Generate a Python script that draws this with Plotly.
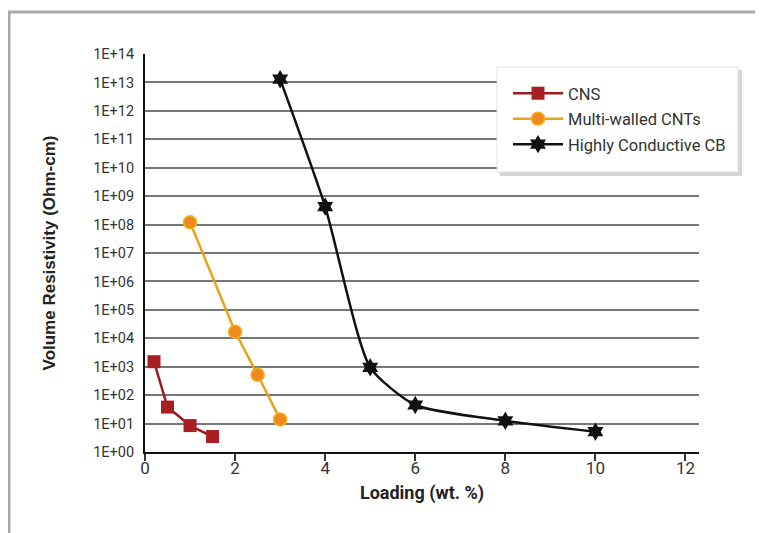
import plotly.graph_objects as go

# ---- data ----
cns_x = [0.2, 0.5, 1.0, 1.5]
cns_y = [1500, 38, 8.5, 3.5]

mw_x = [1.0, 2.0, 2.5, 3.0]
mw_y = [1.2e8, 1.7e4, 520, 14]

cb_x = [3, 4, 5, 6, 8, 10]
cb_y = [1.3e13, 4.3e8, 950, 45, 12.5, 5.2]

y_tickvals = [10 ** i for i in range(15)]
y_ticktext = ["1E+%02d" % i for i in range(15)]
x_tickvals = [0, 2, 4, 6, 8, 10, 12]

# page body has an 8px default margin -> work in screen pixels and shift
OFF = 8
W, H = 763 - OFF, 533 - OFF
L, R, T, B = 145, 699, 54, 452  # plot area in screen pixels


def px(xp):
    return (xp - L) / (R - L)


def py(yp):
    return (B - yp) / (B - T)


fig = go.Figure()
fig.add_trace(go.Scatter(
    x=cns_x, y=cns_y, name="CNS", mode="lines+markers", legendgroup="a",
    line=dict(color="#9b1c1f", width=2.5),
    marker=dict(symbol="square", size=13, color="#a81e22"),
))
fig.add_trace(go.Scatter(
    x=mw_x, y=mw_y, name="Multi-walled CNTs", mode="lines+markers", legendgroup="b",
    line=dict(color="#e8a317", width=2.5),
    marker=dict(symbol="circle", size=13, color="#f08a1c", line=dict(color="#f2b21c", width=1.5)),
))
fig.add_trace(go.Scatter(
    x=cb_x, y=cb_y, name="Highly Conductive CB", mode="lines+markers", legendgroup="c",
    line=dict(color="#111111", width=2.5, shape="spline", smoothing=0.6),
    marker=dict(symbol="hexagram", size=14, color="#111111"),
))

font_tick = "Roboto, Arial, sans-serif"

shapes = [
    # outer gray frame (left + top)
    dict(type="line", xref="paper", yref="paper", x0=px(9), x1=px(9), y0=py(560), y1=py(12),
         line=dict(color="#a8a8a8", width=3)),
    dict(type="line", xref="paper", yref="paper", x0=px(8), x1=px(790), y0=py(12), y1=py(12),
         line=dict(color="#a8a8a8", width=3)),
    # legend shadow
    dict(type="rect", xref="paper", yref="paper", x0=px(500), x1=px(742), y0=py(176), y1=py(70),
         fillcolor="rgba(0,0,0,0.16)", line=dict(width=0), layer="above"),
    # legend box
    dict(type="rect", xref="paper", yref="paper", x0=px(497), x1=px(738), y0=py(172), y1=py(67),
         fillcolor="white", line=dict(color="#e0e0e0", width=1), layer="above"),
]

fig.update_layout(
    width=W, height=H,
    margin=dict(l=L - OFF, r=W - (R - OFF), t=T - OFF, b=H - (B - OFF)),
    paper_bgcolor="white", plot_bgcolor="white",
    showlegend=True,
    legend=dict(
        x=px(508), y=py(76), xanchor="left", yanchor="top",
        bgcolor="rgba(0,0,0,0)", borderwidth=0,
        font=dict(family="Roboto, sans-serif", size=16.5, color="#333333"),
        tracegroupgap=1, traceorder="grouped", itemwidth=50,
    ),
    shapes=shapes,
    xaxis=dict(
        range=[0, 12.3], tickvals=x_tickvals, ticks="outside", ticklen=7, tickwidth=1.5,
        tickcolor="#333", showline=True, linecolor="#111", linewidth=2, showgrid=False,
        zeroline=False, ticklabelstandoff=-7,
        tickfont=dict(family=font_tick, size=17, color="#333"),
        title=dict(text="<b>Loading (wt. %)</b>", font=dict(family=font_tick, size=18, color="#222"),
                   standoff=9),
    ),
    yaxis=dict(
        type="log", range=[0, 14], tickvals=y_tickvals, ticktext=y_ticktext, ticks="",
        showline=True, linecolor="#111", linewidth=2, showgrid=True, gridcolor="#777",
        gridwidth=1.5, zeroline=False, ticklabelstandoff=6,
        tickfont=dict(family=font_tick, size=14.5, color="#333"),
        title=dict(text="<b>Volume Resistivity (Ohm-cm)</b>",
                   font=dict(family="Liberation Sans, Arial, sans-serif", size=17, color="#222"),
                   standoff=33),
    ),
)

fig.write_html("out.html")
